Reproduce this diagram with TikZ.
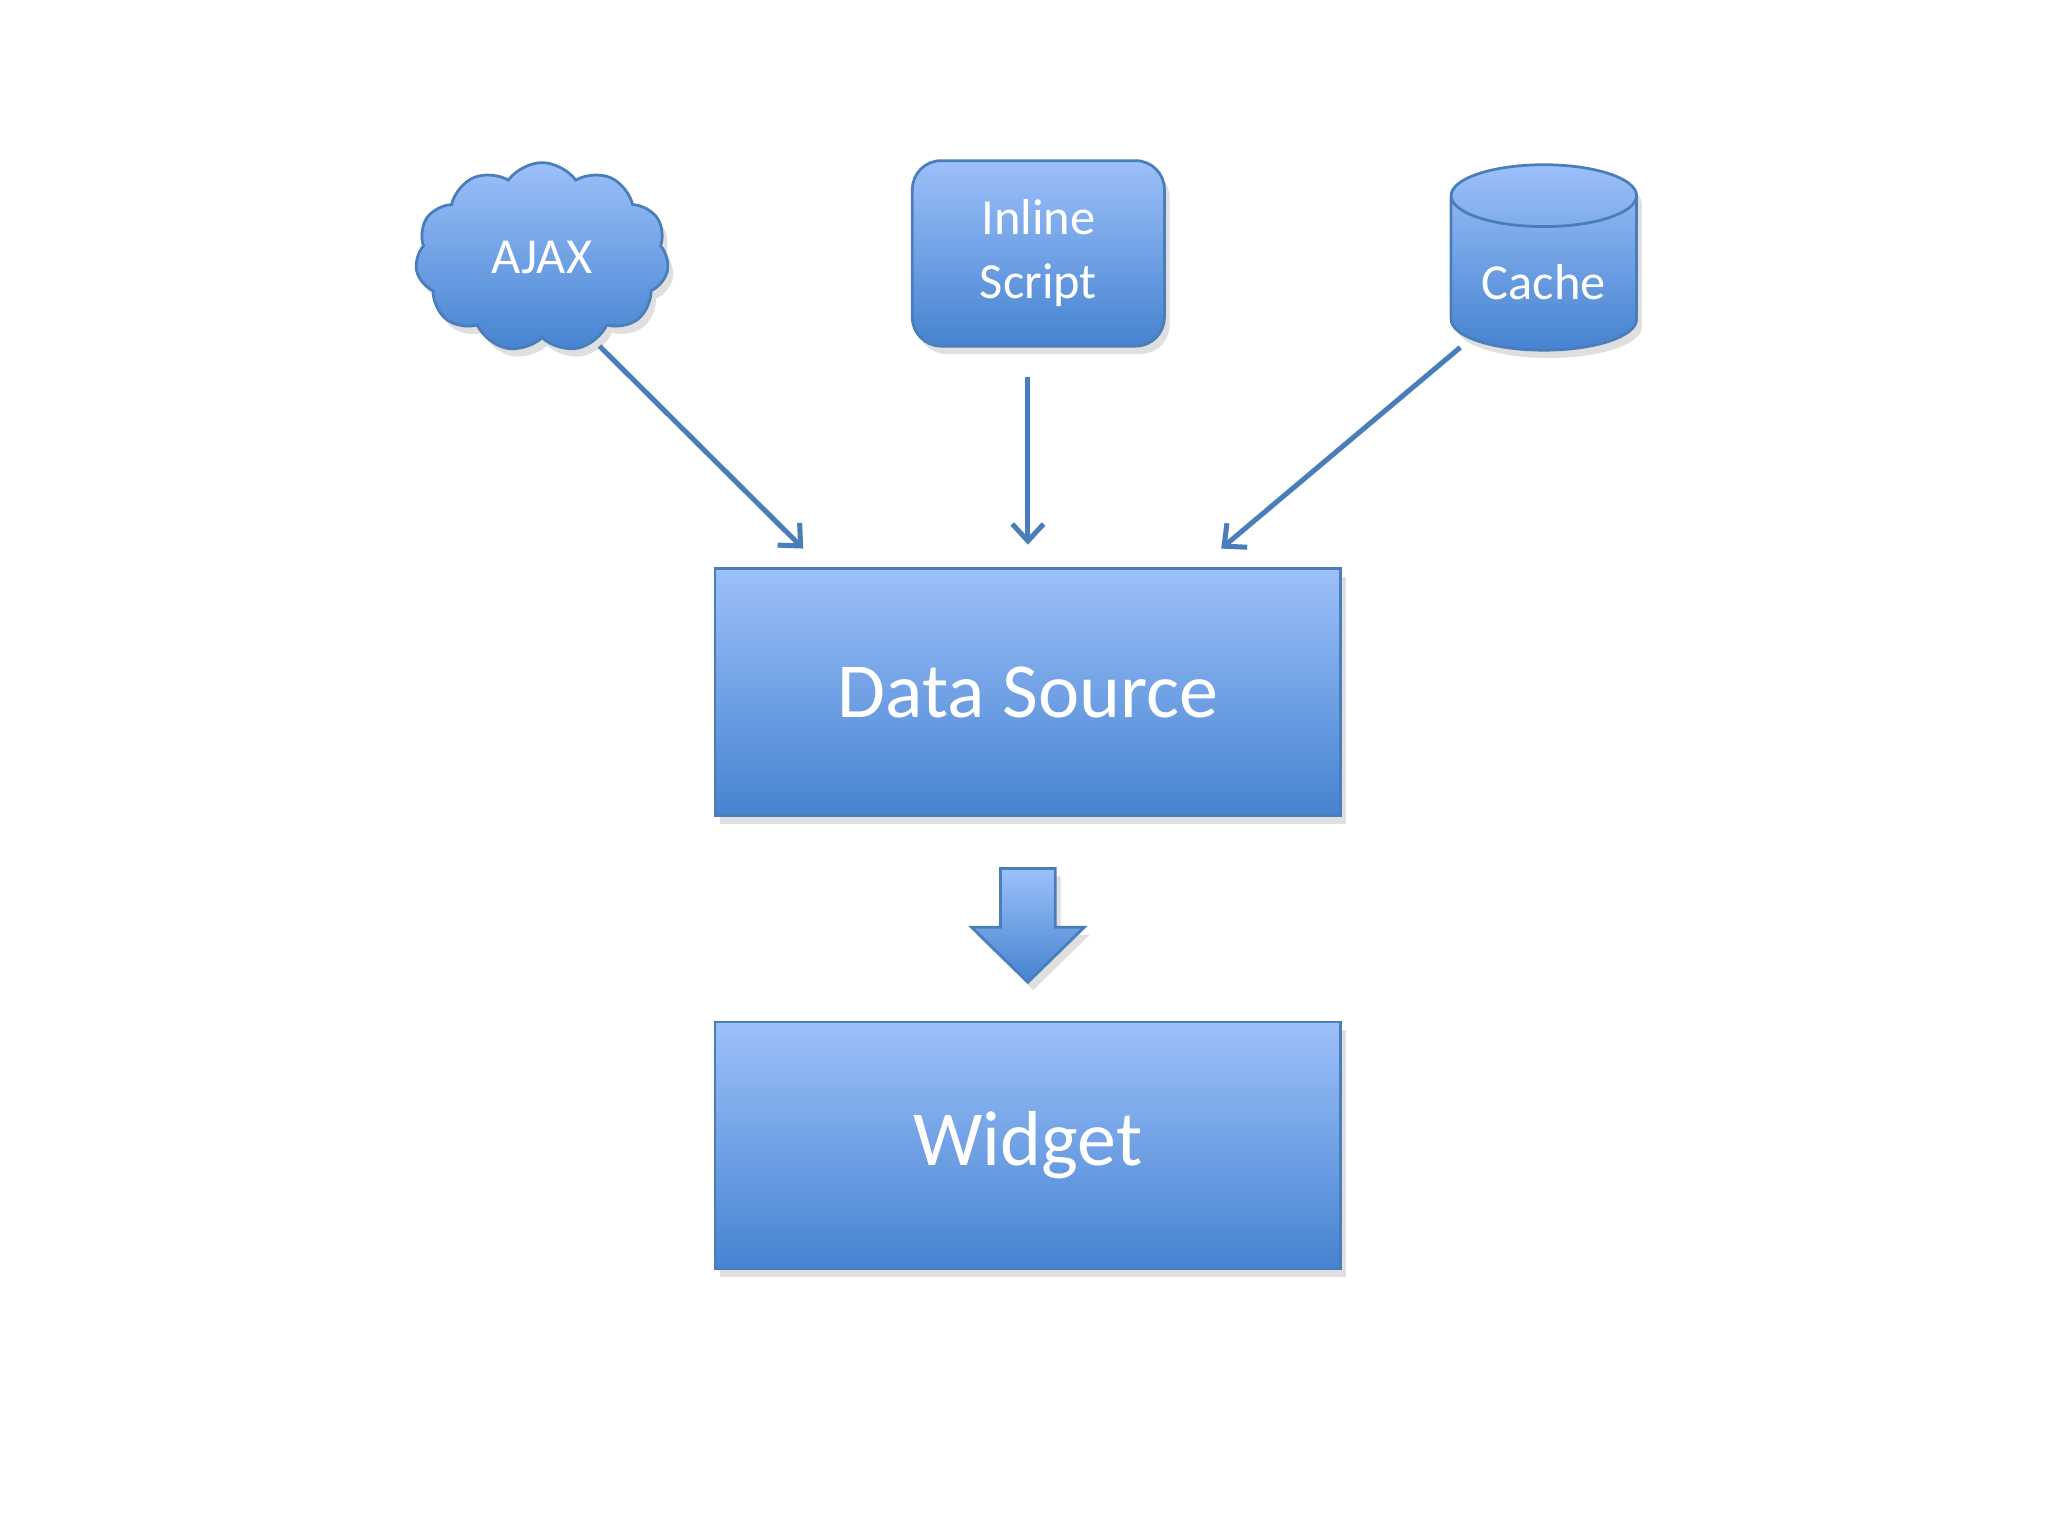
\documentclass[tikz,border=0pt]{standalone}
\usepackage{fontspec}
\setmainfont{Carlito}
\usetikzlibrary{shapes.symbols,shapes.geometric,arrows.meta,shadows}
\definecolor{topc}{HTML}{9CC0FA}
\definecolor{botc}{HTML}{4683D0}
\definecolor{edge}{HTML}{4A7EBB}
\begin{document}
\begin{tikzpicture}[x=0.1mm,y=-0.1mm,
  box/.style={draw=edge,line width=0.6pt,top color=topc,bottom color=botc,text=white,
    drop shadow={shadow xshift=0.4mm,shadow yshift=-0.6mm,opacity=0.25}},
  conn/.style={draw=edge,line width=1.1pt,-{Straight Barb[length=1.3mm,width=2.4mm]}}]
\useasboundingbox[fill=white] (0,0) rectangle (1568,1176);
\node[box,cloud,cloud puffs=11,cloud puff arc=110,aspect=1.3,minimum width=19.4mm,minimum height=14.5mm,font=\fontsize{11}{14}\selectfont] (ajax) at (415,197) {AJAX};
\node[box,rounded corners=2.2mm,minimum width=19.3mm,minimum height=14.2mm,align=center,font=\fontsize{11}{14}\selectfont] (inline) at (795,194) {Inline\\Script};
\node[box,cylinder,shape border rotate=90,aspect=0.4,minimum width=14.2mm,minimum height=14.2mm,font=\fontsize{11}{14}\selectfont,cylinder uses custom fill,cylinder body fill=botc!70!topc,cylinder end fill=topc] (cache) at (1182,216) {\raisebox{-1mm}{Cache}};
\node[box,minimum width=47.9mm,minimum height=18.9mm,font=\fontsize{17}{20}\selectfont] (ds) at (787,530) {Data Source};
\node[box,minimum width=47.9mm,minimum height=18.9mm,font=\fontsize{17}{20}\selectfont] (widget) at (787,877) {Widget};
\path[box] (766,665) -- (808,665) -- (808,710) -- (830,710) -- (787,752) -- (744,710) -- (766,710) -- cycle;
\coordinate (a1) at (459,265); \coordinate (a2) at (615,420);
\coordinate (b1) at (787,289); \coordinate (b2) at (787,417);
\coordinate (c1) at (1118,266); \coordinate (c2) at (935,420);
\draw[conn] (a1) -- (a2);
\draw[conn] (b1) -- (b2);
\draw[conn] (c1) -- (c2);
\end{tikzpicture}
\end{document}
